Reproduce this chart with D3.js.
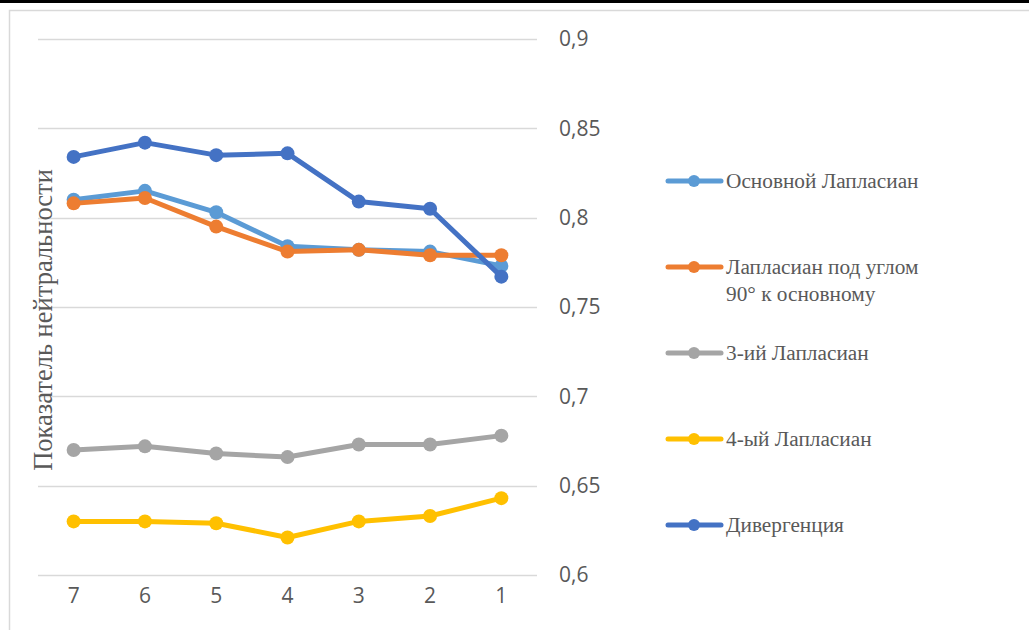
<!DOCTYPE html>
<html>
<head>
<meta charset="utf-8">
<script src="https://cdn.jsdelivr.net/npm/d3@7"></script>
<style>
  html, body { margin: 0; padding: 0; background: #fff; }
  svg { display: block; }
</style>
</head>
<body>
<svg id="chart" width="1029" height="630"></svg>
<script>
// Categories along the x axis (descending order as in the source table)
const categories = ["7", "6", "5", "4", "3", "2", "1"];

// Series values
const basicLaplacian   = [0.810, 0.815, 0.803, 0.784, 0.782, 0.781, 0.773];
const rotatedLaplacian = [0.808, 0.811, 0.795, 0.781, 0.782, 0.779, 0.779];
const thirdLaplacian   = [0.670, 0.672, 0.668, 0.666, 0.673, 0.673, 0.678];
const fourthLaplacian  = [0.630, 0.630, 0.629, 0.621, 0.630, 0.633, 0.643];
const divergence       = [0.834, 0.842, 0.835, 0.836, 0.809, 0.805, 0.767];

const seriesNames = [
  ["Основной Лапласиан"],
  ["Лапласиан под углом", "90° к основному"],
  ["3-ий Лапласиан"],
  ["4-ый Лапласиан"],
  ["Дивергенция"]
];
const seriesColors = ["#5B9BD5", "#ED7D31", "#A5A5A5", "#FFC000", "#4472C4"];
const seriesValues = [basicLaplacian, rotatedLaplacian, thirdLaplacian, fourthLaplacian, divergence];

const yTicks = [0.6, 0.65, 0.7, 0.75, 0.8, 0.85, 0.9];
const yTitle = "Показатель нейтральности";

const svg = d3.select("#chart");

// outer frame
svg.append("rect").attr("x", 0).attr("y", 0).attr("width", 1029).attr("height", 3).attr("fill", "#000");
svg.append("rect")
  .attr("x", 9.5).attr("y", 10.5).attr("width", 1040).attr("height", 640)
  .attr("fill", "none").attr("stroke", "#d9d9d9").attr("stroke-width", 1.5);

const x = d3.scaleBand().domain(categories).range([38, 537]);
const y = d3.scaleLinear().domain([0.6, 0.9]).range([575, 39]);

// horizontal gridlines
svg.append("g").selectAll("line").data(yTicks).join("line")
  .attr("x1", 38).attr("x2", 537)
  .attr("y1", d => Math.round(y(d)) + 0.5).attr("y2", d => Math.round(y(d)) + 0.5)
  .attr("stroke", "#d9d9d9").attr("stroke-width", 1.5);

// y axis on the right
const yAxis = svg.append("g")
  .attr("transform", "translate(537,0)")
  .call(d3.axisRight(y).tickValues(yTicks).tickSize(0).tickPadding(22)
    .tickFormat(d => d3.format("")(+d.toFixed(2)).replace(".", ",")));
yAxis.select(".domain").remove();
yAxis.selectAll("text")
  .attr("font-family", "'Open Sans', 'Liberation Sans', sans-serif")
  .attr("font-size", 21).attr("fill", "#595959");

// x axis at the bottom
const xAxis = svg.append("g")
  .attr("transform", "translate(0,575)")
  .call(d3.axisBottom(x).tickSize(0).tickPadding(13));
xAxis.select(".domain").remove();
xAxis.selectAll("text")
  .attr("font-family", "'Open Sans', 'Liberation Sans', sans-serif")
  .attr("font-size", 21).attr("fill", "#595959");

// y axis title
svg.append("text")
  .attr("transform", "translate(52,320) rotate(-90)")
  .attr("text-anchor", "middle")
  .attr("font-family", "'Liberation Serif', 'Times New Roman', serif")
  .attr("font-size", 26.5).attr("fill", "#595959")
  .text(yTitle);

// series lines and markers
const line = d3.line()
  .x((d, i) => x(categories[i]) + x.bandwidth() / 2)
  .y(d => y(d));

seriesValues.forEach((vals, s) => {
  const g = svg.append("g");
  g.append("path").datum(vals)
    .attr("d", line).attr("fill", "none")
    .attr("stroke", seriesColors[s]).attr("stroke-width", 5)
    .attr("stroke-linejoin", "round").attr("stroke-linecap", "round");
  g.selectAll("circle").data(vals).join("circle")
    .attr("cx", (d, i) => x(categories[i]) + x.bandwidth() / 2)
    .attr("cy", d => y(d)).attr("r", 7)
    .attr("fill", seriesColors[s]);
});

// legend
const legendY = [181, 267, 353, 439, 525];
seriesNames.forEach((lines, s) => {
  const g = svg.append("g").attr("transform", `translate(0,${legendY[s]})`);
  g.append("line").attr("x1", 668).attr("x2", 721).attr("y1", 0).attr("y2", 0)
    .attr("stroke", seriesColors[s]).attr("stroke-width", 5).attr("stroke-linecap", "round");
  g.append("circle").attr("cx", 694).attr("cy", 0).attr("r", 6).attr("fill", seriesColors[s]);
  const t = g.append("text")
    .attr("x", 726).attr("y", 7)
    .attr("font-family", "'Liberation Serif', 'Times New Roman', serif")
    .attr("font-size", 21.3).attr("fill", "#595959");
  lines.forEach((ln, i) => {
    t.append("tspan").attr("x", 726).attr("dy", i === 0 ? 0 : 27).text(ln);
  });
});
</script>
</body>
</html>
